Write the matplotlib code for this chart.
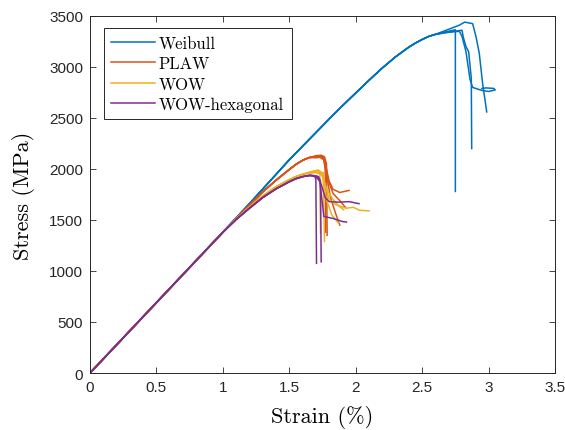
import matplotlib
matplotlib.use('Agg')
import matplotlib.pyplot as plt

plt.rcParams['font.family'] = 'cmr10'
plt.rcParams['mathtext.fontset'] = 'cm'
plt.rcParams['axes.unicode_minus'] = False

# Stress-strain samples (strain in %, stress in MPa).
# Each series has a shared loading branch, then one tail per tested sample.
weibull_pre_strain = [0, 0.5, 1.0, 1.2, 1.5, 1.65, 1.8, 1.9, 2.0, 2.1, 2.2, 2.3, 2.4, 2.45, 2.5, 2.55, 2.6]
weibull_pre_stress = [0, 690, 1380, 1660, 2090, 2290, 2490, 2620, 2745, 2870, 2990, 3100, 3195, 3235, 3270,
                      3300, 3320]
weibull_tail_strain = [
    [2.68, 2.75, 2.75],
    [2.7, 2.8, 2.81, 2.83, 2.85, 2.87, 2.873],
    [2.7, 2.78, 2.82, 2.88, 2.905, 2.93, 2.955, 2.986],
    [2.7, 2.78, 2.80, 2.83, 2.86, 2.88, 2.95, 3.00, 3.05, 3.04, 2.98, 2.95],
]
weibull_tail_stress = [
    [3345, 3365, 1780],
    [3345, 3360, 3290, 3200, 3150, 2890, 2200],
    [3370, 3410, 3440, 3425, 3300, 3135, 2840, 2560],
    [3340, 3350, 3300, 3150, 2880, 2800, 2770, 2760, 2775, 2790, 2795, 2790],
]

plaw_pre_strain = [0, 0.5, 1.0, 1.1, 1.2, 1.3, 1.4, 1.5, 1.55, 1.6, 1.65]
plaw_pre_stress = [0, 690, 1380, 1515, 1645, 1775, 1890, 1995, 2045, 2085, 2112]
plaw_tail_strain = [
    [1.70, 1.74, 1.765, 1.78, 1.785],
    [1.70, 1.73, 1.76, 1.78, 1.80, 1.83, 1.88, 1.95],
    [1.70, 1.745, 1.77, 1.79, 1.83, 1.88, 1.925],
    [1.70, 1.73, 1.76, 1.78, 1.81, 1.85, 1.88],
    [1.70, 1.74, 1.76, 1.77, 1.775],
]
plaw_tail_stress = [
    [2130, 2135, 2120, 2050, 1350],
    [2125, 2125, 2105, 2000, 1880, 1800, 1770, 1790],
    [2120, 2125, 2080, 1900, 1760, 1690, 1620],
    [2110, 2115, 2090, 1950, 1720, 1560, 1450],
    [2120, 2130, 2100, 2000, 1380],
]

wow_pre_strain = [0, 0.5, 1.0, 1.1, 1.2, 1.3, 1.4, 1.5, 1.55, 1.6]
wow_pre_stress = [0, 690, 1380, 1510, 1625, 1735, 1825, 1895, 1925, 1948]
wow_tail_strain = [
    [1.65, 1.70, 1.73, 1.735],
    [1.66, 1.72, 1.755, 1.765],
    [1.66, 1.72, 1.76, 1.80, 1.85, 1.93, 1.98, 2.03, 2.10],
    [1.66, 1.71, 1.75, 1.78, 1.82, 1.87],
    [1.65, 1.70, 1.75, 1.78, 1.83, 1.87, 1.91],
]
wow_tail_stress = [
    [1968, 1985, 1980, 1370],
    [1965, 1975, 1965, 1290],
    [1970, 1990, 1900, 1700, 1650, 1615, 1625, 1595, 1590],
    [1962, 1975, 1950, 1700, 1550, 1470],
    [1960, 1965, 1940, 1800, 1700, 1640, 1600],
]

hex_pre_strain = [0, 0.5, 1.0, 1.1, 1.2, 1.3, 1.4, 1.5, 1.55, 1.6]
hex_pre_stress = [0, 690, 1380, 1505, 1615, 1720, 1805, 1875, 1905, 1925]
hex_tail_strain = [
    [1.65, 1.69, 1.70, 1.705],
    [1.66, 1.72, 1.735, 1.74],
    [1.66, 1.71, 1.74, 1.77, 1.80, 1.87, 1.95, 2.025],
    [1.65, 1.70, 1.73, 1.75, 1.76, 1.83, 1.90, 1.93],
]
hex_tail_stress = [
    [1938, 1935, 1900, 1075],
    [1937, 1925, 1880, 1090],
    [1938, 1930, 1850, 1720, 1680, 1675, 1680, 1660],
    [1937, 1925, 1880, 1650, 1535, 1515, 1485, 1480],
]

series = [
    ('Weibull', '#0072BD', weibull_pre_strain, weibull_pre_stress, weibull_tail_strain, weibull_tail_stress),
    ('PLAW', '#D95319', plaw_pre_strain, plaw_pre_stress, plaw_tail_strain, plaw_tail_stress),
    ('WOW', '#EDB120', wow_pre_strain, wow_pre_stress, wow_tail_strain, wow_tail_stress),
    ('WOW-hexagonal', '#7E2F8E', hex_pre_strain, hex_pre_stress, hex_tail_strain, hex_tail_stress),
]

fig = plt.figure(figsize=(5.65, 4.31), dpi=100)
ax = fig.add_axes([90 / 565, 1 - 374 / 431, 465 / 565, 357 / 431])

handles = []
for name, color, px, py, tx, ty in series:
    for i in range(len(tx)):
        line, = ax.plot(px + tx[i], py + ty[i], color=color, lw=1.1)
        if i == 0:
            line.set_label(name)
            handles.append(line)

ax.set_xlim(0, 3.5)
ax.set_ylim(0, 3500)
ax.set_xticks([0, 0.5, 1, 1.5, 2, 2.5, 3, 3.5])
ax.set_xticklabels(['0', '0.5', '1', '1.5', '2', '2.5', '3', '3.5'])
ax.set_yticks(range(0, 3501, 500))
for lab in ax.get_xticklabels() + ax.get_yticklabels():
    lab.set_fontfamily('Liberation Sans')
    lab.set_fontsize(11)

ax.tick_params(direction='in', length=4, width=0.6, color='#262626', top=True, right=True,
               labelcolor='#262626', pad=5)
for sp in ax.spines.values():
    sp.set_color('#262626')
    sp.set_linewidth(0.7)

ax.set_xlabel('Strain (%)', fontsize=16, labelpad=8)
ax.set_ylabel('Stress (MPa)', fontsize=16, labelpad=10)

leg = ax.legend(handles=handles, loc='upper left', bbox_to_anchor=(0.03, 0.966), borderaxespad=0,
                fontsize=12, handlelength=2.6, handletextpad=0.25, labelspacing=0.3,
                borderpad=0.45, fancybox=False, framealpha=1, edgecolor='#262626')
leg.get_frame().set_linewidth(0.7)

fig.savefig('out.png', dpi=100)
